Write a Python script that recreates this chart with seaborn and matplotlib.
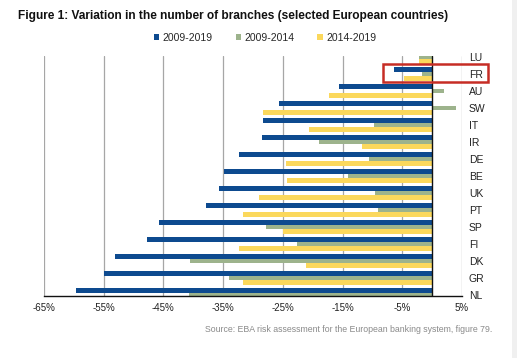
import matplotlib
matplotlib.use("Agg")
import matplotlib.pyplot as plt
from matplotlib.patches import Rectangle, Patch
import pandas as pd
import seaborn as sns

countries = ['LU', 'FR', 'AU', 'SW', 'IT', 'IR', 'DE', 'BE', 'UK', 'PT', 'SP', 'FI', 'DK', 'GR', 'NL']
periods = ['2009-2019', '2009-2014', '2014-2019']
# % change in number of branches (LU 2009-2019 and NL 2014-2019 sit outside the frame in the original)
chg_2009_2019 = [-1.5, -6.4, -15.6, -25.6, -28.4, -28.5, -32.3, -34.9, -35.7, -37.9, -45.8, -47.8, -53.1, -54.9, -59.7]
chg_2009_2014 = [-2.2, -1.7, 2.0, 4.0, -9.7, -18.9, -10.5, -14.1, -9.6, -9.0, -27.9, -22.7, -40.5, -34.0, -40.8]
chg_2014_2019 = [-2.2, -4.7, -17.2, -28.4, -20.6, -11.8, -24.5, -24.3, -29.0, -31.7, -25.0, -32.4, -21.2, -31.6, -20.0]
xticks = [-65, -55, -45, -35, -25, -15, -5, 5]

colors = ['#0d4a8f', '#9db38c', '#fbd85c']

df = pd.DataFrame({'country': countries * 3,
                   'period': [periods[0]] * 15 + [periods[1]] * 15 + [periods[2]] * 15,
                   'change': chg_2009_2019 + chg_2009_2014 + chg_2014_2019})

sns.set_theme(style='white')
plt.rcParams['font.family'] = ['Liberation Sans', 'DejaVu Sans']

fig = plt.figure(figsize=(5.17, 3.58), dpi=100)
ax = fig.add_axes([0.0851, 0.1732, 0.8085, 0.6704])

sns.barplot(data=df, y='country', x='change', hue='period', order=countries,
            hue_order=periods, palette=colors, orient='h', width=0.8,
            saturation=1, legend=False, linewidth=0, ax=ax, zorder=3)

ax.set_xlim(-65, 5)
ax.set_ylim(14.05, -0.05)
ax.set_xticks(xticks)
ax.set_xticklabels([f'{t}%' for t in xticks], fontsize=7, color='#222222')
ax.yaxis.tick_right()
ax.tick_params(axis='y', labelsize=7.5, labelcolor='#222222', pad=5, length=0)
ax.tick_params(axis='x', length=0, pad=5)
ax.set_xlabel('')
ax.set_ylabel('')

for t in xticks:
    ax.axvline(t, color='#a6a6a6', lw=0.9, zorder=1)
ax.axvline(0, color='#111111', lw=1.0, zorder=4)
for s in ['top', 'left', 'right']:
    ax.spines[s].set_visible(False)
ax.spines['bottom'].set_color('#111111')
ax.spines['bottom'].set_linewidth(1.0)
ax.spines['bottom'].set_zorder(5)

# red box around FR
ax.add_patch(Rectangle((-8.2, 0.41), 17.6, 1.05, fill=False, edgecolor='#c62d25',
                       lw=1.8, clip_on=False, zorder=6))

handles = [Patch(facecolor=c, edgecolor='none') for c in colors]
fig.legend(handles, periods, loc='center', bbox_to_anchor=(265 / 517, 1 - 38 / 358),
           ncol=3, frameon=False, fontsize=7.5, handlelength=0.55, handleheight=0.55,
           handletextpad=0.3, columnspacing=2.2)

fig.text(18 / 517, 1 - 16 / 358,
         'Figure 1: Variation in the number of branches (selected European countries)',
         fontsize=8.55, fontweight='bold', va='center', ha='left', color='#111111')
fig.text(492 / 517, 1 - 330 / 358,
         'Source: EBA risk assessment for the European banking system, figure 79.',
         fontsize=6.3, color='#8a8a8a', va='center', ha='right')

# light strip at the right edge of the page
fig.patches.append(Rectangle((512 / 517, 0), 5 / 517, 1, transform=fig.transFigure,
                             facecolor='#f0f0f0', edgecolor='none', zorder=0))

fig.savefig('out.png', dpi=100)
